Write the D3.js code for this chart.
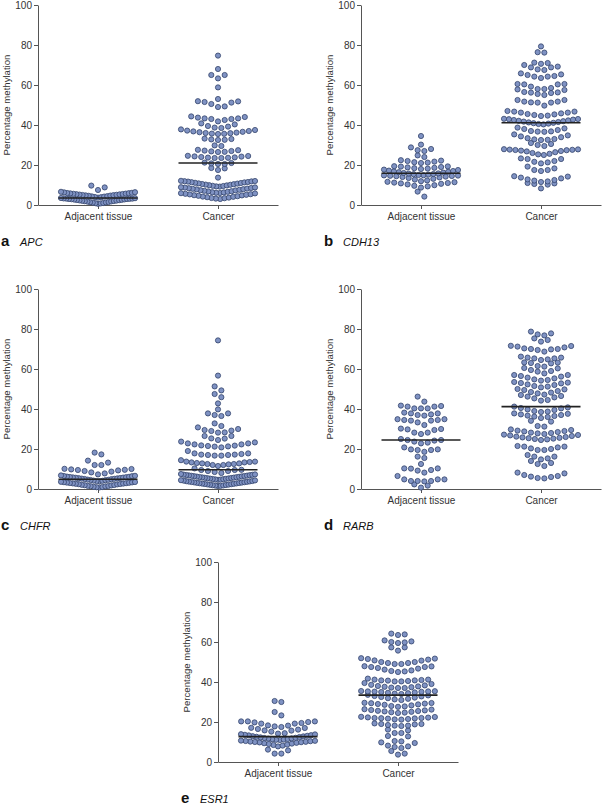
<!DOCTYPE html>
<html><head><meta charset="utf-8">
<script src="https://cdn.jsdelivr.net/npm/d3@7/dist/d3.min.js"></script>
<style>
body{margin:0;background:#fff}
svg text{font-family:"Liberation Sans",Arial,Helvetica,sans-serif}
</style>
</head><body>
<svg id="chart" width="602" height="807"></svg>
<script>
// ---------- data (percentage methylation) ----------
const categories = ["Adjacent tissue", "Cancer"];
const yTicks = [0, 20, 40, 60, 80, 100];
const panelLetters = ["a", "b", "c", "d", "e"];
const geneNames = ["APC", "CDH13", "CHFR", "RARB", "ESR1"];

const apcAdjacent = [0.6,0.8,0.9,1.0,1.2,1.3,1.4,1.5,1.7,1.8,1.9,2.0,2.1,2.2,2.3,2.4,2.5,2.6,2.7,2.8,2.9,3.0,3.0,3.1,3.2,3.2,3.3,3.4,3.5,
  3.7,3.9,4.0,4.2,4.3,4.4,4.6,4.7,4.8,4.9,5.0,5.1,5.2,5.3,5.4,5.5,5.6,5.7,5.8,5.9,6.0,6.1,6.3,6.4,6.6,
  7.5,8.8,9.7];
const apcCancer = [3.0,3.2,3.4,3.5,3.7,3.9,4.1,4.2,4.4,4.6,4.8,4.9,5.1,5.3,5.4,5.6,5.8,5.9,
  6.0,6.1,6.3,6.4,6.6,6.8,6.9,7.1,7.3,7.4,7.6,7.8,7.9,8.1,8.2,8.4,8.5,8.7,8.8,8.9,
  9.2,9.3,9.5,9.6,9.8,9.9,10.1,10.2,10.4,10.5,10.7,10.8,11.0,11.1,11.3,11.4,11.5,11.7,11.8,11.9,12.0,12.1,
  13.7,17.5,18.3,18.5,20.5,20.5,20.8,21.0,21.2,
  23.5,23.5,23.6,23.7,23.8,24.0,24.2,24.3,24.5,24.6,
  26.5,26.6,26.8,27.0,27.2,27.4,27.6,29.5,29.8,
  32.5,32.6,32.8,33.0,33.2,
  35.5,35.6,35.7,35.9,36.0,36.2,36.4,36.6,36.8,37.0,37.2,37.5,37.8,
  38.5,38.7,39.2,39.5,40.3,40.8,
  41.8,42.5,43.0,43.0,43.3,43.3,43.7,44.0,44.3,
  49.0,49.3,50.5,51.2,51.5,51.8,51.9,53.0,58.8,63.3,65.0,65.0,68.0,74.7];

const cdh13Adjacent = [4.2,6.7,
  8.7,9.3,9.6,9.9,10.3,10.6,10.8,11.0,11.2,11.4,11.6,
  11.9,12.3,12.7,13.1,13.5,13.8,14.0,14.2,14.4,14.5,14.6,14.7,14.8,
  14.9,15.0,15.2,15.4,15.5,15.7,15.8,16.0,16.2,16.4,16.6,16.8,17.0,17.2,17.5,17.7,
  18.0,18.2,18.4,18.6,18.8,19.0,19.2,19.3,19.4,
  21.0,21.2,21.4,21.7,22.0,22.2,22.4,
  24.0,24.8,27.0,27.4,28.0,28.8,30.2,34.5];
const cdh13Cancer = [8.3,10.2,10.5,10.8,11.0,
  11.5,11.8,12.2,12.5,12.8,13.3,13.7,14.2,14.4,
  17.0,17.5,17.5,18.3,19.2,
  20.8,21.3,21.6,22.0,23.0,23.0,23.3,
  25.0,25.3,25.6,26.0,26.4,26.8,27.0,27.2,27.4,27.5,27.6,27.7,27.8,27.9,
  29.5,30.0,30.5,31.0,
  32.5,32.6,32.8,33.0,33.4,33.9,34.3,34.8,35.3,
  36.6,36.7,36.8,37.0,37.5,38.0,38.3,38.7,
  40.3,40.5,40.7,40.9,41.1,41.3,41.5,41.7,41.9,42.1,42.3,42.5,42.7,42.9,43.0,43.1,
  44.5,44.7,45.0,45.3,45.5,45.8,46.2,46.2,46.7,46.7,47.0,
  49.7,51.2,51.2,51.3,51.7,51.7,52.5,52.5,
  55.0,55.5,56.0,56.2,56.3,56.5,57.5,57.8,
  58.0,58.0,58.5,59.2,60.3,60.3,60.5,60.5,
  63.5,64.2,64.2,64.5,65.0,65.3,65.8,
  67.5,67.8,68.8,68.8,69.2,70.0,70.6,71.0,71.2,
  76.2,76.4,79.3];

const chfrAdjacent = [0.8,0.9,1.0,1.1,1.3,1.4,1.5,1.6,1.8,1.9,2.0,2.1,2.3,2.4,2.5,2.6,2.7,2.8,2.9,3.0,3.1,3.2,3.3,3.4,3.5,3.6,
  3.9,4.0,4.1,4.2,4.4,4.5,4.6,4.7,4.9,5.0,5.1,5.2,5.3,5.4,5.5,5.6,5.7,5.8,5.9,6.0,6.1,6.2,6.4,6.5,6.6,6.8,
  7.3,7.8,8.3,8.7,9.0,9.3,9.5,9.6,9.8,10.0,10.1,
  12.0,12.0,13.2,14.2,17.3,18.2];
const chfrCancer = [1.5,1.6,1.7,1.8,1.9,2.0,2.1,2.2,2.3,2.4,2.5,2.6,2.7,2.8,2.9,3.0,3.1,3.2,3.3,3.4,3.5,3.6,3.7,3.8,3.9,4.0,4.2,4.3,4.4,
  4.6,4.7,4.8,4.9,5.0,5.1,5.2,5.3,5.4,5.5,5.6,5.7,5.8,5.9,6.0,6.1,6.2,6.3,6.4,6.5,6.6,6.7,6.8,6.9,7.0,7.1,7.2,7.3,7.5,
  8.0,8.5,9.0,9.0,9.5,9.5,9.6,10.3,
  11.5,12.0,12.0,12.3,12.5,12.5,12.8,12.8,13.0,13.3,13.3,13.5,13.7,13.7,14.4,
  16.7,16.7,17.0,17.0,17.2,17.2,17.5,17.8,17.8,19.0,
  20.8,21.2,21.3,21.5,21.7,21.8,22.3,22.3,22.8,22.8,23.3,23.7,
  24.5,25.2,25.3,26.5,26.5,
  28.2,28.3,29.0,29.2,29.5,30.0,30.8,31.5,32.8,
  36.5,37.0,37.8,37.8,39.8,42.8,45.9,47.5,49.3,51.3,56.7,74.3];

const rarbAdjacent = [0.7,1.7,2.3,
  3.8,4.0,4.0,4.0,4.8,4.8,4.8,6.5,
  8.2,9.2,9.5,10.2,10.3,10.3,
  12.5,15.5,16.2,
  18.6,19.5,19.5,19.8,19.8,20.8,
  22.8,23.2,23.7,24.2,24.5,24.5,25.0,
  27.5,28.2,28.2,29.5,29.8,30.0,30.2,
  32.0,33.3,34.2,34.2,34.5,34.5,34.9,34.9,
  36.7,37.0,37.3,37.8,37.8,38.2,
  40.3,40.3,40.3,41.2,41.2,41.5,41.7,43.7,46.2];
const rarbCancer = [5.3,5.5,6.0,6.2,6.5,7.0,7.8,8.2,
  11.5,12.5,13.0,14.0,
  14.8,15.3,16.2,16.2,17.0,
  19.5,19.5,20.0,20.3,20.8,21.2,21.2,21.5,
  24.5,24.8,25.0,25.2,25.4,25.6,25.8,26.0,26.2,26.5,26.8,27.0,27.2,
  27.5,27.8,28.0,28.2,28.5,28.8,29.0,29.2,29.5,29.8,
  31.2,31.5,33.7,34.1,
  35.5,36.0,36.2,36.5,36.7,37.0,37.3,37.6,37.8,
  38.5,38.7,39.0,39.5,39.8,40.3,40.5,40.8,41.2,
  44.2,44.5,45.3,45.8,46.2,46.5,47.0,
  47.2,47.8,48.2,48.5,49.0,49.5,49.8,50.0,
  50.8,51.2,51.5,52.0,52.3,52.8,53.0,53.2,53.5,
  54.2,54.5,54.8,55.3,55.7,56.2,56.5,57.0,57.0,
  57.8,58.7,59.0,59.5,60.3,60.5,
  61.2,61.5,62.8,63.0,63.2,63.3,
  64.5,64.8,65.3,65.3,65.7,65.7,66.2,
  68.7,69.5,69.8,70.0,70.0,70.3,70.8,71.2,71.5,71.6,
  73.7,74.5,75.3,76.8,77.3,77.8,78.7];

const esr1Adjacent = [4.2,4.2,5.8,6.2,
  7.8,8.2,8.5,8.7,9.0,9.2,9.4,9.6,9.8,9.9,10.0,10.1,10.2,10.4,10.5,10.6,10.7,
  11.0,11.1,11.2,11.4,11.5,11.7,11.8,12.0,12.1,12.3,12.5,12.6,12.8,12.9,13.1,13.3,13.4,13.6,13.8,13.9,
  14.2,14.4,15.2,15.7,15.8,16.2,16.5,17.0,17.1,
  17.5,17.8,18.2,18.3,19.2,19.2,19.5,19.8,20.0,20.3,20.3,20.3,
  23.3,25.0,30.0,30.5];
const esr1Cancer = [3.7,4.2,5.5,
  7.0,7.5,7.8,8.2,9.5,9.8,
  10.3,10.5,12.8,13.0,
  14.5,14.5,15.8,16.2,
  18.0,18.2,18.2,18.5,18.8,19.0,19.0,19.3,
  21.2,21.3,21.5,21.7,21.8,21.9,22.0,22.0,22.2,22.3,22.5,22.6,
  24.5,24.7,24.9,25.1,25.3,25.5,25.6,25.8,26.0,26.2,26.4,
  27.6,27.8,28.0,28.3,28.6,28.8,29.0,29.2,29.4,29.5,29.6,
  31.0,31.3,31.6,31.9,32.2,32.5,32.8,33.0,33.3,33.6,
  34.0,34.2,34.4,34.6,34.8,35.0,35.1,35.2,35.3,35.3,35.4,35.5,
  37.0,37.0,37.2,37.4,37.6,37.8,38.0,38.3,38.6,39.0,39.5,
  40.3,40.3,40.5,40.7,40.8,40.8,41.0,41.2,41.2,41.7,
  45.0,45.3,45.5,45.8,46.2,46.7,47.0,47.5,47.5,47.8,47.9,
  49.0,49.0,49.5,49.5,50.0,50.0,50.7,50.8,51.2,51.5,51.7,51.9,
  55.7,57.3,57.3,59.5,59.8,60.0,60.3,60.8,63.5,63.8,64.2];

const groupsPerPanel = [
  [apcAdjacent, apcCancer],
  [cdh13Adjacent, cdh13Cancer],
  [chfrAdjacent, chfrCancer],
  [rarbAdjacent, rarbCancer],
  [esr1Adjacent, esr1Cancer]
];

// ---------- layout (positions of each panel's plot origin) ----------
const panelOrigins = [[38, 205], [361, 205], [38, 489], [361, 489], [218, 762]];
const PLOT_W = 240, PLOT_H = 200;
const DOT_R = 2.6, DOT_GAP = 6.7, HALF_W = 37, ROW_BIN = 3.0, MED_HALF = 39.5;
const DOT_FILL = "#7f92c3", DOT_STROKE = "#34446b", AXIS = "#555", TXT = "#333";

// Prism-like scatter: values grouped into rows, spread horizontally,
// smallest value of a row in the middle.
function swarm(values) {
  const sorted = values.slice().sort((a, b) => a - b);
  const rows = [];
  let cur = null;
  for (const v of sorted) {
    if (!cur || v >= cur.min + ROW_BIN - 1e-9) { cur = {min: v, vals: []}; rows.push(cur); }
    cur.vals.push(v);
  }
  const out = [];
  rows.forEach(r => {
    const n = r.vals.length;
    const s = n > 1 ? Math.min(DOT_GAP, 2 * HALF_W / (n - 1)) : 0;
    const slots = d3.range(n).map(i => (i - (n - 1) / 2) * s);
    slots.sort((a, b) => (Math.abs(a) - Math.abs(b)) || (b - a));
    r.vals.forEach((v, i) => out.push({v, dx: slots[i]}));
  });
  return out;
}

const svg = d3.select("#chart");

panelOrigins.forEach(([ox, oy], p) => {
  const g = svg.append("g");
  const y = d3.scaleLinear().domain([0, 100]).range([oy, oy - PLOT_H]);
  const x = d3.scalePoint().domain(categories).range([ox, ox + PLOT_W]).padding(0.5);

  // y axis
  const ya = g.append("g").attr("transform", `translate(${ox},0)`)
    .call(d3.axisLeft(y).tickValues(yTicks).tickSize(4).tickSizeOuter(0).tickPadding(2));
  // x axis
  const xa = g.append("g").attr("transform", `translate(0,${oy})`)
    .call(d3.axisBottom(x).tickSize(4).tickSizeOuter(0).tickPadding(4));
  [ya, xa].forEach(a => {
    a.selectAll("path,line").attr("stroke", AXIS).attr("stroke-width", 1);
    a.selectAll("text").attr("fill", TXT).style("font-size", "10px");
  });

  // y title
  g.append("text")
    .attr("transform", `translate(${ox - 28},${y(50)}) rotate(-90)`)
    .attr("text-anchor", "middle").attr("fill", TXT)
    .style("font-size", "9.6px").text("Percentage methylation");

  // dots + medians
  groupsPerPanel[p].forEach((vals, gi) => {
    const cx = x(categories[gi]);
    g.append("g").selectAll("circle").data(swarm(vals)).join("circle")
      .attr("cx", d => cx + d.dx).attr("cy", d => y(d.v)).attr("r", DOT_R)
      .attr("fill", DOT_FILL).attr("stroke", DOT_STROKE).attr("stroke-width", 0.8);
    const med = d3.median(vals);
    g.append("line").attr("x1", cx - MED_HALF).attr("x2", cx + MED_HALF)
      .attr("y1", y(med)).attr("y2", y(med)).attr("stroke", "#222").attr("stroke-width", 1.6);
  });

  // panel label
  g.append("text").attr("x", ox - 37).attr("y", oy + 41).attr("fill", "#111")
    .style("font-size", "15px").style("font-weight", "bold").text(panelLetters[p]);
  g.append("text").attr("x", ox - 18).attr("y", oy + 41).attr("fill", "#111")
    .style("font-size", "11px").style("font-style", "italic").text(geneNames[p]);
});
</script>
</body></html>
